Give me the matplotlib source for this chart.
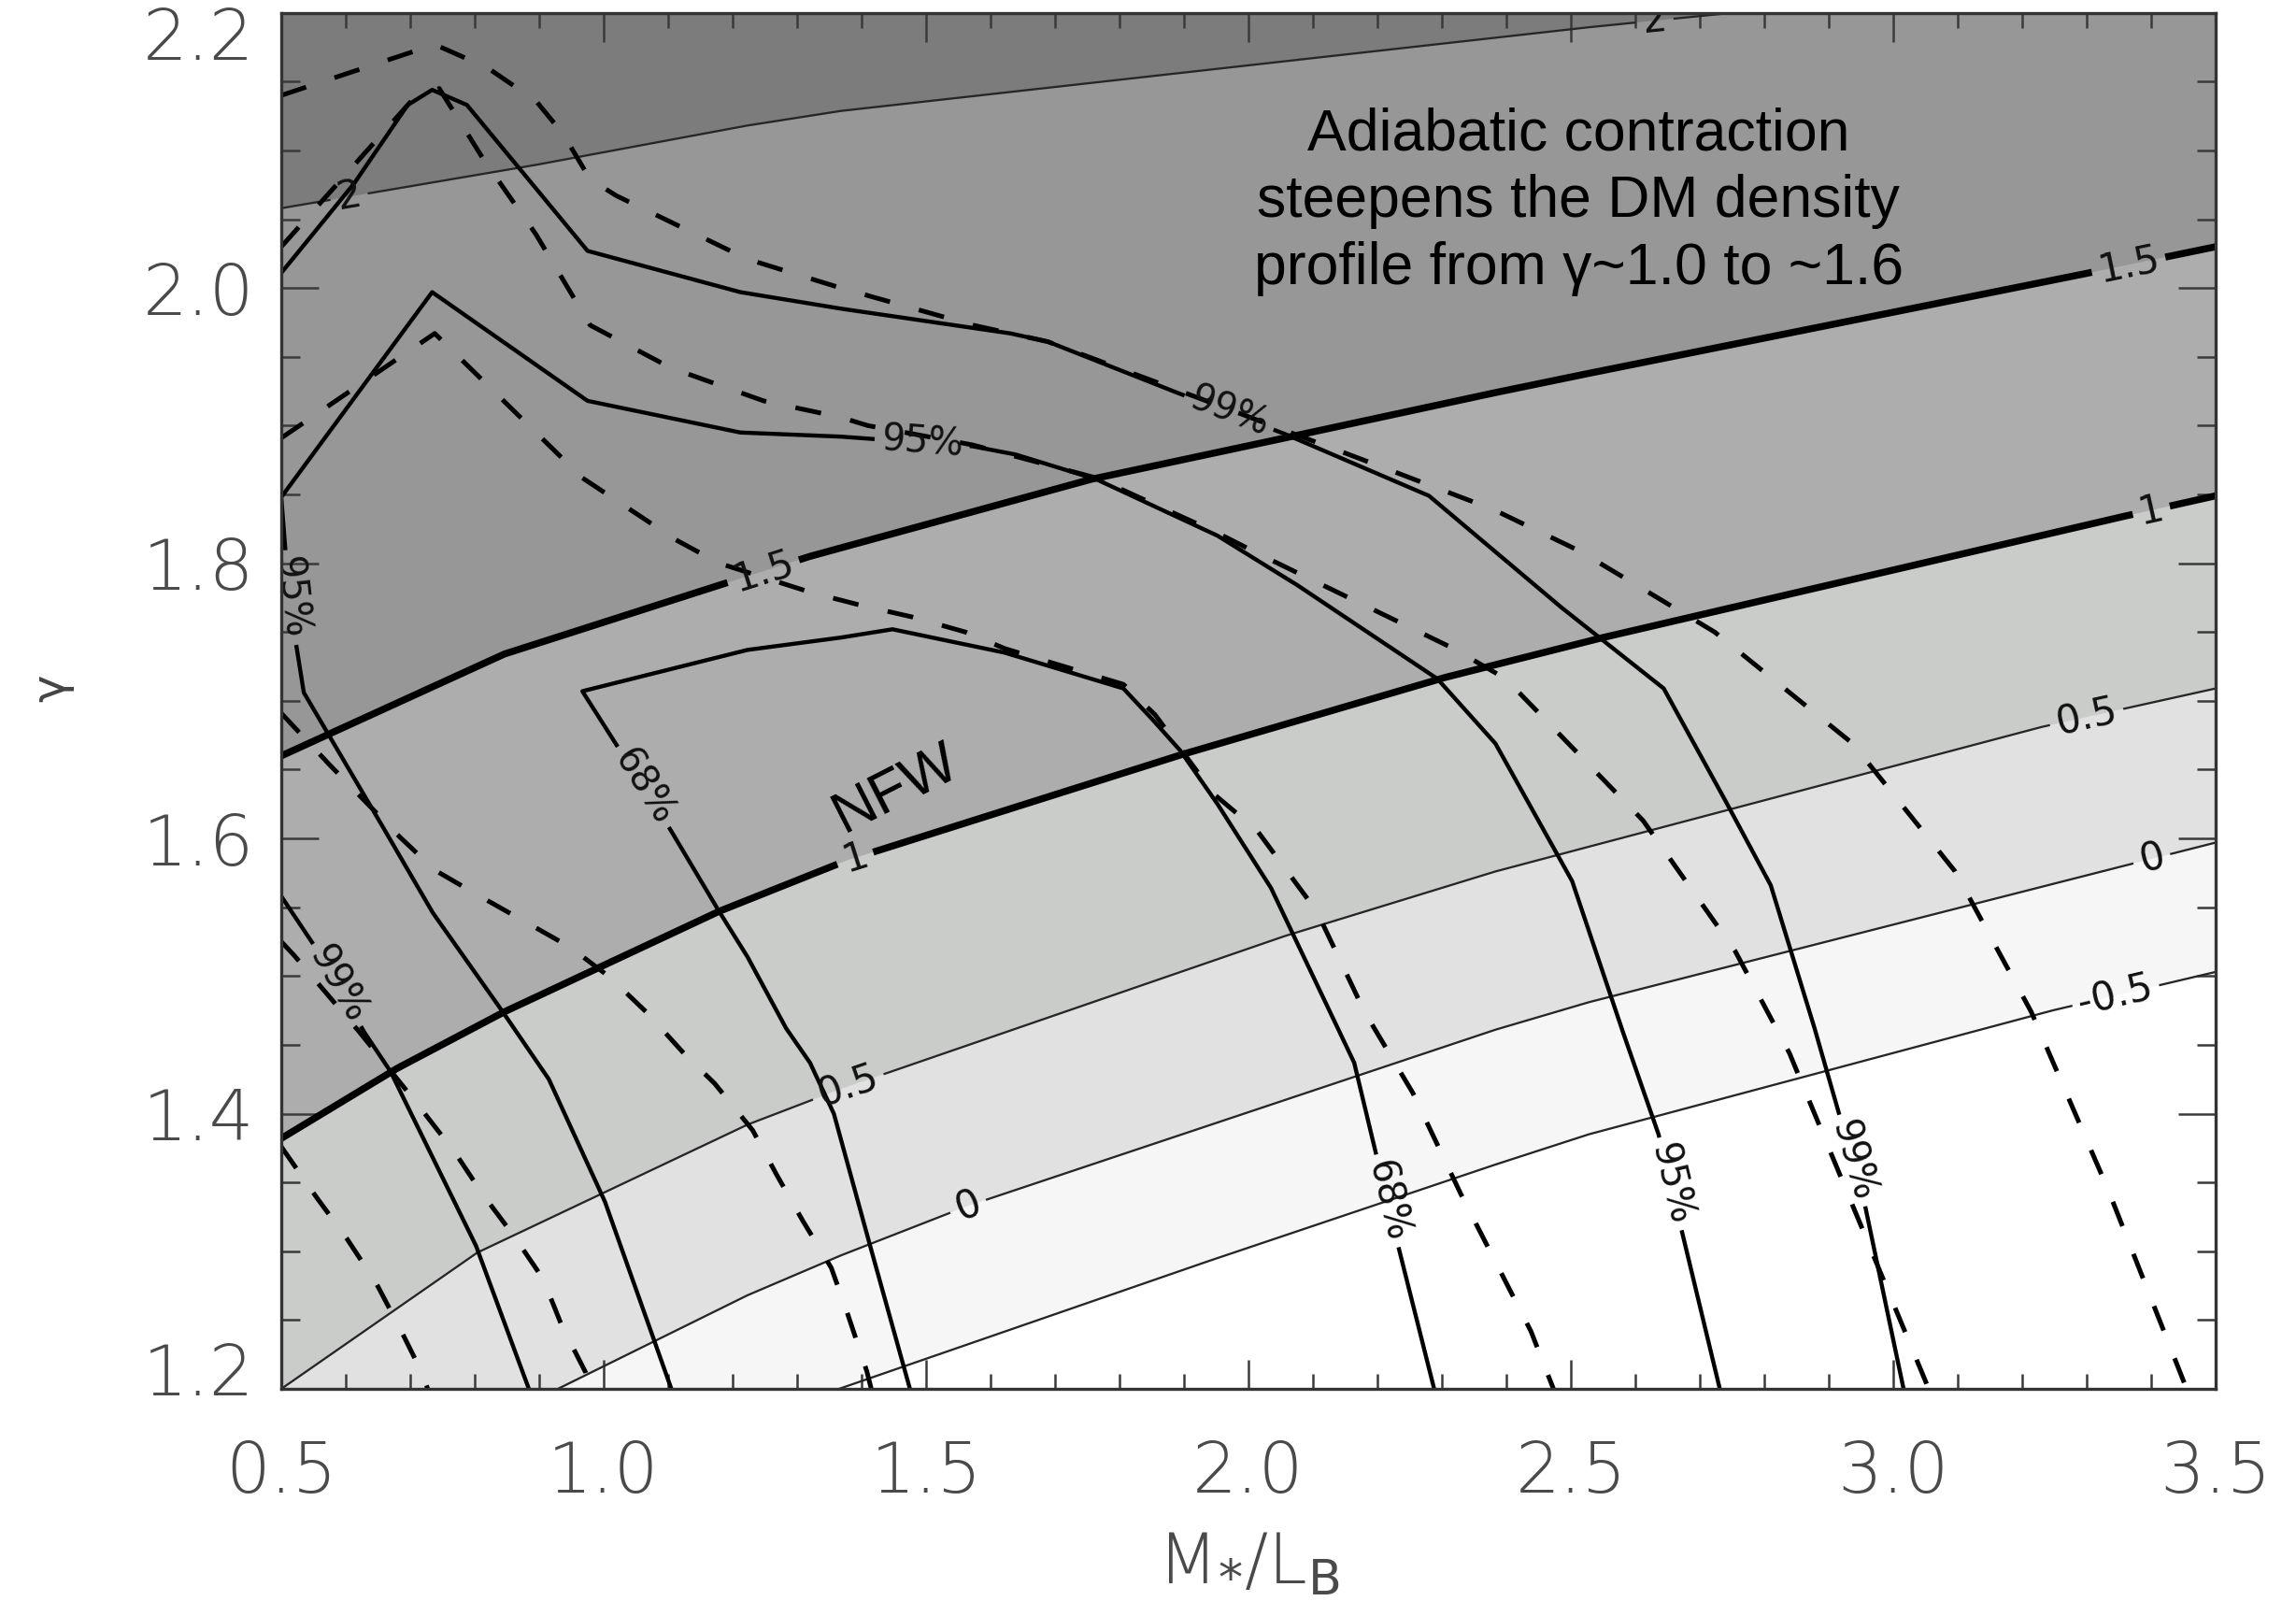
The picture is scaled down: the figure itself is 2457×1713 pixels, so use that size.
import numpy as np
import matplotlib
matplotlib.use('Agg')
import matplotlib.pyplot as plt
import matplotlib.transforms as mtransforms
from matplotlib.ticker import MultipleLocator, FixedLocator

plt.rcParams['font.family'] = ['DejaVu Sans']
plt.rcParams['mathtext.fontset'] = 'dejavusans'

# ---- background field: iso-lines of the inner slope, labelled by value ----
LEVEL_2_X = [0.5, 0.895, 1.222, 1.368, 2.528, 2.75, 3.0]
LEVEL_2_Y = [2.058, 2.0895, 2.118, 2.1287, 2.1895, 2.2, 2.21]
LEVEL_15_X = [0.5, 0.846, 1.179, 1.32, 1.756, 2.056, 2.383, 2.528, 3.293, 3.5]
LEVEL_15_Y = [1.66, 1.734, 1.784, 1.805, 1.861, 1.891, 1.924, 1.938, 2.010, 2.030]
LEVEL_1_X = [0.5, 0.68, 0.846, 1.179, 1.377, 1.897, 2.305, 2.55, 3.357, 3.5]
LEVEL_1_Y = [1.382, 1.433, 1.474, 1.547, 1.584, 1.661, 1.717, 1.746, 1.834, 1.849]
LEVEL_05_X = [0.5, 0.804, 1.223, 1.368, 2.056, 2.383, 2.528, 3.23, 3.5]
LEVEL_05_Y = [1.2, 1.299, 1.392, 1.418, 1.529, 1.576, 1.594, 1.681, 1.709]
LEVEL_0_X = [0.929, 1.223, 1.368, 1.565, 2.383, 2.528, 3.357, 3.5]
LEVEL_0_Y = [1.2, 1.268, 1.297, 1.333, 1.461, 1.481, 1.580, 1.597]
LEVEL_M05_X = [1.365, 1.939, 2.383, 2.528, 3.247, 3.5]
LEVEL_M05_Y = [1.2, 1.293, 1.363, 1.385, 1.475, 1.503]

# shades from the steepest (top left) to the shallowest (bottom right)
SHADES = ['#7c7c7c', '#979797', '#adadad', '#c9ccc9', '#e1e1e1', '#f6f6f6', '#ffffff']

# ---- confidence contours (solid) ----
S99_UP_X = [0.5, 0.613, 0.696, 0.734, 0.788, 0.975, 1.212, 1.368, 1.631, 1.689, 1.889,
            2.056, 2.280, 2.485, 2.644, 2.739, 2.810, 2.878, 2.955, 3.016]
S99_UP_Y = [2.011, 2.076, 2.133, 2.144, 2.133, 2.027, 1.997, 1.985, 1.967, 1.961, 1.924,
            1.894, 1.849, 1.768, 1.709, 1.628, 1.566, 1.462, 1.336, 1.2]
S99_LO_X = [0.5, 0.557, 0.629, 0.669, 0.802, 0.884]
S99_LO_Y = [1.558, 1.518, 1.459, 1.431, 1.304, 1.2]
S95_X = [1.105, 1.002, 0.915, 0.842, 0.735, 0.658, 0.535, 0.52, 0.508, 0.5, 0.734, 0.975,
         1.212, 1.368, 1.572, 1.639, 1.764, 1.952, 2.076, 2.293, 2.383, 2.502, 2.581,
         2.636, 2.731]
S95_Y = [1.2, 1.336, 1.425, 1.475, 1.546, 1.608, 1.706, 1.75, 1.80, 1.848, 1.997, 1.918,
         1.895, 1.892, 1.885, 1.879, 1.861, 1.820, 1.784, 1.716, 1.669, 1.569, 1.459,
         1.385, 1.2]
S68_X = [1.475, 1.415, 1.357, 1.320, 1.283, 1.223, 1.179, 1.104, 0.967, 1.223, 1.368,
         1.448, 1.622, 1.806, 1.852, 1.894, 1.952, 2.035, 2.164, 2.230, 2.288]
S68_Y = [1.2, 1.301, 1.400, 1.437, 1.462, 1.514, 1.547, 1.606, 1.707, 1.737, 1.746,
         1.752, 1.735, 1.709, 1.686, 1.664, 1.625, 1.564, 1.437, 1.308, 1.2]

# ---- confidence contours (dashed) ----
DA_X = [0.5, 0.738, 0.82, 0.895, 0.937, 0.979, 1.020, 1.223, 1.368, 1.573, 1.689, 1.889,
        2.156, 2.380, 2.513, 2.62, 2.723, 2.937, 3.096, 3.214, 3.333, 3.455]
DA_Y = [2.14, 2.177, 2.16, 2.136, 2.112, 2.079, 2.067, 2.021, 2.0, 1.973, 1.961, 1.926,
        1.879, 1.839, 1.809, 1.779, 1.750, 1.669, 1.576, 1.474, 1.345, 1.2]
DB_X = [0.5, 0.70, 0.745, 0.813, 0.895, 0.979, 1.104, 1.248, 1.368, 1.41, 1.572, 1.764,
        1.952, 2.019, 2.318, 2.399, 2.612, 2.755, 2.839, 3.055]
DB_Y = [2.03, 2.135, 2.145, 2.094, 2.039, 1.973, 1.942, 1.918, 1.906, 1.90, 1.886, 1.862,
        1.822, 1.806, 1.738, 1.716, 1.613, 1.518, 1.444, 1.2]
DC_X = [0.5, 0.738, 0.967, 1.112, 1.179, 1.320, 1.394, 1.478, 1.561, 1.622, 1.806, 1.855,
        1.947, 2.013, 2.106, 2.180, 2.255, 2.330, 2.438, 2.473]
DC_Y = [1.891, 1.967, 1.862, 1.817, 1.800, 1.779, 1.770, 1.761, 1.750, 1.738, 1.712,
        1.690, 1.632, 1.606, 1.547, 1.474, 1.415, 1.341, 1.242, 1.2]
DD_X = [0.5, 0.574, 0.684, 0.738, 0.808, 0.880, 0.948, 1.010, 1.068, 1.126, 1.172, 1.231,
        1.269, 1.309, 1.353, 1.378, 1.408, 1.415]
DD_Y = [1.691, 1.654, 1.601, 1.577, 1.558, 1.539, 1.521, 1.499, 1.473, 1.443, 1.422,
        1.388, 1.355, 1.322, 1.288, 1.255, 1.213, 1.2]
DE_X = [0.5, 0.555, 0.602, 0.647, 0.684, 0.720, 0.727]
DE_Y = [1.376, 1.339, 1.309, 1.277, 1.244, 1.210, 1.2]
DF_X = [0.5, 0.52, 0.62, 0.706, 0.769, 0.813, 0.861, 0.906, 0.935, 0.972, 0.98]
DF_Y = [1.525, 1.515, 1.46, 1.410, 1.372, 1.341, 1.311, 1.280, 1.246, 1.212, 1.2]

X_TICKS = [0.5, 1.0, 1.5, 2.0, 2.5, 3.0, 3.5]
Y_TICKS = [1.2, 1.4, 1.6, 1.8, 2.0, 2.2]


fig = plt.figure(figsize=(8.19, 5.71), dpi=300)
ax = fig.add_axes([0.1225, 0.1325, 0.965 - 0.1225, 0.992 - 0.1325])
ax.set_xlim(0.5, 3.5)
ax.set_ylim(1.2, 2.2)
renderer = fig.canvas.get_renderer()


def labelled_line(xs, ys, labels=(), fontsize=10, **kw):
    """Plot a polyline and break it where inline labels are written."""
    pts = ax.transData.transform(np.column_stack([xs, ys]))
    seg = np.diff(pts, axis=0)
    seglen = np.hypot(seg[:, 0], seg[:, 1])
    cum = np.concatenate([[0.0], np.cumsum(seglen)])

    def point_at(s):
        i = min(np.searchsorted(cum, s, side='right') - 1, len(seg) - 1)
        t = (s - cum[i]) / seglen[i] if seglen[i] > 0 else 0.0
        return pts[i] + t * seg[i]

    gaps = []
    for lx, ly, text in labels:
        p = ax.transData.transform((lx, ly))
        best = None
        for i in range(len(seg)):
            if seglen[i] == 0:
                continue
            t = np.clip(np.dot(p - pts[i], seg[i]) / seglen[i] ** 2, 0, 1)
            d = np.hypot(*(pts[i] + t * seg[i] - p))
            if best is None or d < best[0]:
                best = (d, i, t)
        _, i, t = best
        ang = np.degrees(np.arctan2(seg[i, 1], seg[i, 0]))
        if ang > 90:
            ang -= 180
        elif ang <= -90:
            ang += 180
        cx, cy = ax.transData.inverted().transform(pts[i] + t * seg[i])
        txt = ax.text(cx, cy, text, ha='center', va='center', fontsize=fontsize,
                      color='#111111', zorder=6, clip_on=True)
        half = txt.get_window_extent(renderer).width / 2 + 7
        txt.set_rotation(ang)
        txt.set_rotation_mode('anchor')
        s0 = cum[i] + t * seglen[i]
        gaps.append((s0 - half, s0 + half))

    gaps.sort()
    pieces, start = [], 0.0
    for a, b in gaps:
        if a > start:
            pieces.append((start, a))
        start = max(start, b)
    if start < cum[-1]:
        pieces.append((start, cum[-1]))

    inv = ax.transData.inverted()
    for a, b in pieces:
        inner = [pts[k] for k in range(len(pts)) if a < cum[k] < b]
        path = np.array([point_at(a)] + inner + [point_at(b)])
        dx, dy = inv.transform(path).T
        ax.plot(dx, dy, solid_capstyle='butt', **kw)


# shaded bands between iso-lines
ax.fill([0.3, 3.7, 3.7, 0.3], [1.0, 1.0, 2.4, 2.4], color=SHADES[0], lw=0, zorder=0)
curves = [(LEVEL_2_X, LEVEL_2_Y), (LEVEL_15_X, LEVEL_15_Y), (LEVEL_1_X, LEVEL_1_Y),
          (LEVEL_05_X, LEVEL_05_Y), (LEVEL_0_X, LEVEL_0_Y), (LEVEL_M05_X, LEVEL_M05_Y)]
for (xs, ys), shade in zip(curves, SHADES[1:]):
    px = [0.3] + list(xs) + [3.7, 3.7, 0.3]
    py = [ys[0]] + list(ys) + [ys[-1], 1.0, 1.0]
    ax.fill(px, py, color=shade, lw=0, zorder=0)

thin = dict(color='#262626', lw=0.55, zorder=2)
thick = dict(color='black', lw=1.8, zorder=2)
labelled_line(LEVEL_2_X, LEVEL_2_Y, [(0.605, 2.067, '2'), (2.63, 2.194, '2')], **thin)
labelled_line(LEVEL_15_X, LEVEL_15_Y, [(1.249, 1.792, '1.5'), (3.365, 2.017, '1.5')], **thick)
labelled_line(LEVEL_1_X, LEVEL_1_Y, [(1.39, 1.586, '1'), (3.40, 1.839, '1')], **thick)
labelled_line(LEVEL_05_X, LEVEL_05_Y, [(1.379, 1.42, '0.5'), (3.30, 1.688, '0.5')], **thin)
labelled_line(LEVEL_0_X, LEVEL_0_Y, [(1.565, 1.333, '0'), (3.40, 1.587, '0')], **thin)
labelled_line(LEVEL_M05_X, LEVEL_M05_Y, [(3.345, 1.486, '-0.5')], **thin)

# confidence regions
solid = dict(color='black', lw=1.05, zorder=3)
labelled_line(S99_UP_X, S99_UP_Y, [(1.972, 1.912, '99%'), (2.937, 1.366, '99%')],
              fontsize=9.5, **solid)
labelled_line(S99_LO_X, S99_LO_Y, [(0.585, 1.493, '99%')], fontsize=9.5, **solid)
labelled_line(S95_X, S95_Y, [(1.494, 1.888, '95%'), (2.655, 1.349, '95%'),
                             (0.514, 1.775, '95%')], fontsize=9.5, **solid)
labelled_line(S68_X, S68_Y, [(1.06, 1.637, '68%'), (2.21, 1.336, '68%')],
              fontsize=9.5, **solid)

dashed = dict(color='black', lw=1.2, ls=(0, (5.6, 6.4)), zorder=3)
for xs, ys in [(DA_X, DA_Y), (DB_X, DB_Y), (DC_X, DC_Y), (DD_X, DD_Y), (DE_X, DE_Y),
               (DF_X, DF_Y)]:
    ax.plot(xs, ys, **dashed)

# annotations
ax.text(2.512, 2.063, 'Adiabatic contraction\nsteepens the DM density\nprofile from γ~1.0 to ~1.6',
        ha='center', va='center', fontsize=15, family=['Liberation Sans', 'DejaVu Sans'],
        linespacing=1.28, zorder=7)
ax.text(1.454, 1.636, 'NFW', ha='center', va='center', rotation=27, fontsize=15,
        family=['Liberation Sans', 'DejaVu Sans'], zorder=7)

# axes styling
ax.xaxis.set_major_locator(FixedLocator(X_TICKS))
ax.xaxis.set_minor_locator(MultipleLocator(0.1))
ax.yaxis.set_major_locator(FixedLocator(Y_TICKS))
ax.yaxis.set_minor_locator(MultipleLocator(0.05))
ax.set_xticklabels(['%.1f' % v for v in X_TICKS])
ax.set_yticklabels(['%.1f' % v for v in Y_TICKS])
ax.tick_params(which='both', direction='in', top=True, right=True, color='#3a3a3a',
               width=0.6, labelsize=18, labelcolor='#4a4a4a')
ax.tick_params(axis='x', which='major', length=7.5, pad=13)
ax.tick_params(axis='x', which='minor', length=3.8)
ax.tick_params(axis='y', which='major', length=9.5, pad=7)
ax.tick_params(axis='y', which='minor', length=4.8)
for lab in ax.get_xticklabels() + ax.get_yticklabels():
    lab.set_fontweight('light')
ylabs = ax.get_yticklabels()
ylabs[-1].set_transform(ylabs[-1].get_transform()
                        + mtransforms.ScaledTranslation(0, -22 / 300, fig.dpi_scale_trans))
ylabs[0].set_transform(ylabs[0].get_transform()
                       + mtransforms.ScaledTranslation(0, 22 / 300, fig.dpi_scale_trans))
for sp in ax.spines.values():
    sp.set_color('#333333')
    sp.set_linewidth(0.8)
    sp.set_zorder(8)

ax.set_xlabel(r'M$_{{*}}$/L$_\mathrm{B}$', fontsize=18, color='#4a4a4a', labelpad=6,
              fontweight='light')
fig.text(0.0224, 0.570, 'γ', rotation=90, fontsize=12, color='#444444',
         ha='center', va='center')

fig.savefig('out.png', dpi=300)
